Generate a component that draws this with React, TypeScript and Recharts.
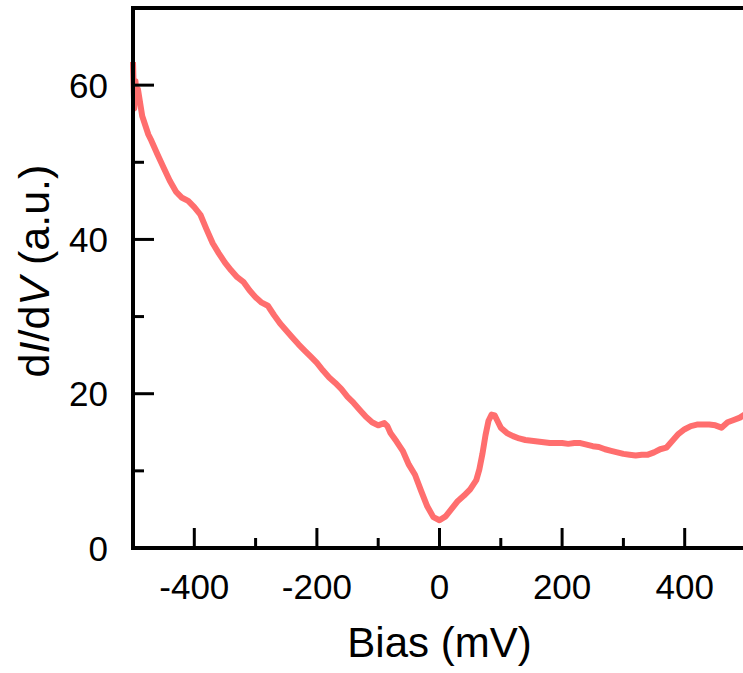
import { LineChart, Line, XAxis, YAxis, ReferenceLine, Label } from 'recharts';

// bias (mV) and dI/dV (a.u.)
const bias = [
  -500, -498, -496, -494, -492, -490, -485, -480, -475, -470, -460, -450, -440, -430, -420, -410,
  -400, -390, -380, -370, -360, -350, -340, -330, -320, -310, -300, -290, -280, -270, -260, -250,
  -240, -230, -220, -210, -200, -190, -180, -170, -160, -150, -140, -130, -120, -110, -100, -90,
  -85, -80, -70, -60, -50, -40, -30, -20, -10, 0, 10, 20, 30, 40, 50, 60, 65, 70, 75, 80, 85, 90,
  95, 100, 110, 120, 130, 140, 150, 160, 170, 180, 190, 200, 210, 220, 230, 240, 250, 260, 270,
  280, 290, 300, 310, 320, 330, 340, 350, 360, 370, 380, 390, 400, 410, 420, 430, 440, 450, 460,
  470, 480, 490, 500,
];
const didv = [
  63.0, 57.0, 60.5, 58.0, 59.5, 58.5, 56.0, 54.8, 53.6, 52.8, 51.0, 49.3, 47.6, 46.2, 45.4, 45.0,
  44.2, 43.2, 41.3, 39.5, 38.2, 37.0, 36.0, 35.1, 34.5, 33.4, 32.5, 31.8, 31.4, 30.2, 29.1, 28.2,
  27.3, 26.4, 25.6, 24.8, 24.0, 23.0, 22.1, 21.4, 20.6, 19.6, 18.8, 17.9, 17.0, 16.3, 15.9, 16.2,
  15.8, 14.9, 13.8, 12.6, 10.8, 9.5, 7.4, 5.4, 4.0, 3.6, 4.1, 5.1, 6.1, 6.8, 7.6, 8.8, 10.2, 12.2,
  14.6, 16.5, 17.3, 17.2, 16.4, 15.6, 14.9, 14.5, 14.2, 14.0, 13.9, 13.8, 13.7, 13.6, 13.6, 13.6,
  13.5, 13.6, 13.6, 13.4, 13.2, 13.1, 12.8, 12.6, 12.4, 12.2, 12.1, 12.0, 12.1, 12.1, 12.4, 12.8,
  13.0, 13.9, 14.8, 15.4, 15.8, 16.0, 16.0, 16.0, 15.9, 15.6, 16.3, 16.6, 16.9, 17.4,
];

const xTicks = [-500, -400, -300, -200, -100, 0, 100, 200, 300, 400, 500];
const yTicks = [0, 10, 20, 30, 40, 50, 60, 70];

const data = bias.map((b, i) => ({ bias: b, didv: didv[i] }));

const FONT = '"Liberation Sans", Arial, sans-serif';

const XTick = (props: any) => {
  const { x, y, payload } = props;
  const v = payload.value;
  const major = v % 200 === 0;
  const edge = v === -500 || v === 500;
  return (
    <g>
      {!edge && (
        <line x1={x} x2={x} y1={y} y2={y - (major ? 20 : 10)} stroke="#000" strokeWidth={3} />
      )}
      {major && (
        <text x={x} y={y + 51} textAnchor="middle" fontSize={35} fontFamily={FONT} fill="#000">
          {v}
        </text>
      )}
    </g>
  );
};

const YTick = (props: any) => {
  const { x, y, payload } = props;
  const v = payload.value;
  const major = v % 20 === 0;
  const edge = v === 0 || v === 70;
  return (
    <g>
      {!edge && (
        <line x1={x} x2={x + (major ? 21 : 11)} y1={y} y2={y} stroke="#000" strokeWidth={3} />
      )}
      {major && (
        <text x={x - 25} y={y} dy="0.36em" textAnchor="end" fontSize={35} fontFamily={FONT} fill="#000">
          {v}
        </text>
      )}
    </g>
  );
};

const YTitle = () => (
  <text
    x={49}
    y={271}
    transform="rotate(-90, 49, 271)"
    textAnchor="middle"
    fontSize={43}
    fontFamily={FONT}
    fill="#000"
  >
    d<tspan fontStyle="italic">I</tspan>/d<tspan fontStyle="italic">V</tspan> (a.u.)
  </text>
);

export default function App() {
  const axisLine = { stroke: '#000', strokeWidth: 4, strokeLinecap: 'square' as const };
  return (
    <div
      style={{
        position: 'absolute',
        left: 0,
        top: 0,
        width: 743,
        height: 673,
        overflow: 'hidden',
        background: '#fff',
      }}
    >
      <LineChart width={760} height={673} data={data} margin={{ top: 8, right: 14, bottom: 0, left: 0 }}>
        <XAxis
          dataKey="bias"
          type="number"
          domain={[-500, 500]}
          ticks={xTicks}
          interval={0}
          height={125}
          tickSize={0}
          tickMargin={0}
          tickLine={false}
          axisLine={axisLine}
          tick={<XTick />}
        >
          <Label
            value="Bias (mV)"
            position="insideBottom"
            offset={16}
            style={{ fontSize: 42, fontFamily: FONT, fill: '#000' }}
          />
        </XAxis>
        <YAxis
          type="number"
          domain={[0, 70]}
          ticks={yTicks}
          interval={0}
          width={133}
          tickSize={0}
          tickMargin={0}
          tickLine={false}
          axisLine={axisLine}
          tick={<YTick />}
        >
          <Label content={<YTitle />} />
        </YAxis>
        <ReferenceLine y={70} stroke="#000" strokeWidth={4} strokeLinecap="square" />
        <Line
          type="linear"
          dataKey="didv"
          stroke="#ff6e6e"
          strokeWidth={6}
          strokeLinejoin="round"
          dot={false}
          isAnimationActive={false}
        />
      </LineChart>
    </div>
  );
}
